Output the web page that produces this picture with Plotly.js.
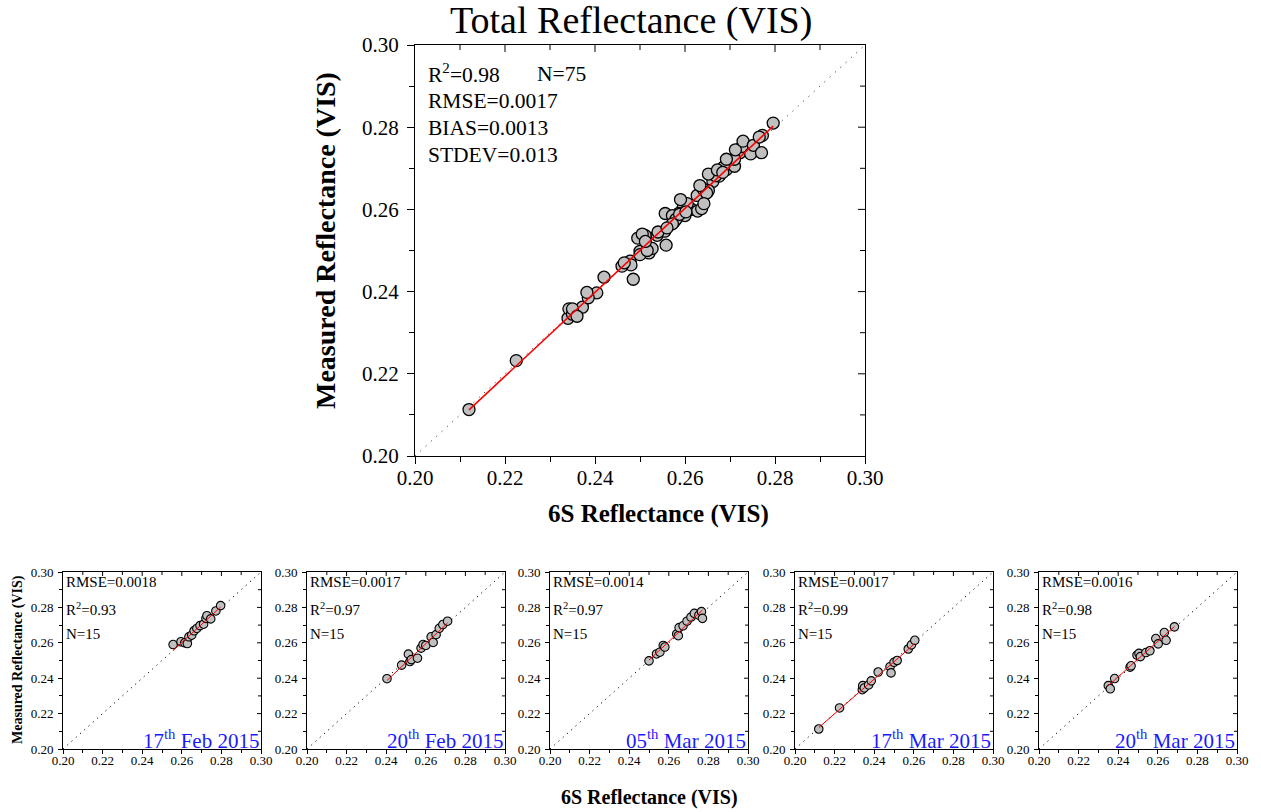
<!DOCTYPE html>
<html>
<head>
<meta charset="utf-8">
<script src="https://cdn.plot.ly/plotly-3.0.1.min.js"></script>
<style>html,body{margin:0;padding:0;background:#fff;}#chart{width:1261px;height:812px;}</style>
</head>
<body>
<div id="chart"></div>
<script>
// ---------------- DATA ----------------
const axisRange = [0.20, 0.30];
const tickVals = [0.20, 0.22, 0.24, 0.26, 0.28, 0.30];
const minorVals = [0.21, 0.23, 0.25, 0.27, 0.29];

// 17th Feb 2015
const feb17X = [0.2556,0.2596,0.2615,0.2628,0.2636,0.2650,0.2662,0.2676,0.2692,0.2710,0.2722,0.2727,0.2746,0.2772,0.2796];
const feb17Y = [0.2590,0.2606,0.2600,0.2596,0.2634,0.2643,0.2668,0.2681,0.2697,0.2705,0.2738,0.2753,0.2735,0.2780,0.2810];
// 20th Feb 2015
const feb20X = [0.2404,0.2478,0.2512,0.2520,0.2527,0.2558,0.2576,0.2586,0.2600,0.2627,0.2637,0.2652,0.2668,0.2686,0.2710];
const feb20Y = [0.2397,0.2474,0.2536,0.2494,0.2505,0.2513,0.2570,0.2590,0.2585,0.2634,0.2602,0.2646,0.2682,0.2703,0.2722];
// 05th Mar 2015
const mar05X = [0.2500,0.2538,0.2555,0.2572,0.2580,0.2640,0.2648,0.2652,0.2672,0.2692,0.2712,0.2729,0.2752,0.2765,0.2770];
const mar05Y = [0.2498,0.2537,0.2547,0.2585,0.2576,0.2650,0.2640,0.2686,0.2696,0.2722,0.2745,0.2766,0.2756,0.2776,0.2738];
// 17th Mar 2015
const mar17X = [0.2120,0.2225,0.2340,0.2342,0.2350,0.2372,0.2385,0.2420,0.2480,0.2485,0.2500,0.2516,0.2572,0.2588,0.2605];
const mar17Y = [0.2113,0.2232,0.2335,0.2358,0.2345,0.2362,0.2385,0.2435,0.2465,0.2430,0.2490,0.2500,0.2565,0.2588,0.2614];
// 20th Mar 2015
const mar20X = [0.2350,0.2360,0.2382,0.2460,0.2465,0.2495,0.2505,0.2512,0.2540,0.2560,0.2590,0.2602,0.2633,0.2642,0.2684];
const mar20Y = [0.2358,0.2340,0.2398,0.2462,0.2470,0.2530,0.2540,0.2522,0.2545,0.2555,0.2624,0.2594,0.2658,0.2614,0.2690];

const panelX = [feb17X, feb20X, mar05X, mar17X, mar20X];
const panelY = [feb17Y, feb20Y, mar05Y, mar17Y, mar20Y];
const panelDay = ['17', '20', '05', '17', '20'];
const panelMonth = ['Feb 2015', 'Feb 2015', 'Mar 2015', 'Mar 2015', 'Mar 2015'];
const panelRMSE = ['0.0018', '0.0017', '0.0014', '0.0017', '0.0016'];
const panelR2 = ['0.93', '0.97', '0.97', '0.99', '0.98'];
const panelN = ['15', '15', '15', '15', '15'];

const mainR2 = '0.98', mainN = '75', mainRMSE = '0.0017', mainBias = '0.0013', mainStdev = '0.013';

// ---------------- LAYOUT HELPERS ----------------
const W = 1261, H = 812;
const fx = p => p / W;
const fy = p => 1 - p / H;
const serif = 'Liberation Serif, Times New Roman, serif';
const span = axisRange[1] - axisRange[0];

function fit(xs, ys) {
  const n = xs.length;
  const mx = xs.reduce((a, b) => a + b, 0) / n;
  const my = ys.reduce((a, b) => a + b, 0) / n;
  let sxy = 0, sxx = 0;
  for (let i = 0; i < n; i++) { sxy += (xs[i] - mx) * (ys[i] - my); sxx += (xs[i] - mx) ** 2; }
  const b = sxy / sxx, a = my - b * mx;
  const x0 = Math.min(...xs), x1 = Math.max(...xs);
  return { x: [x0, x1], y: [a + b * x0, a + b * x1] };
}

const mainX = [].concat(...panelX);
const mainY = [].concat(...panelY);

const traces = [];
const layout = {
  width: W, height: H,
  margin: { l: 0, r: 0, t: 0, b: 0 },
  paper_bgcolor: '#fff', plot_bgcolor: '#fff',
  showlegend: false,
  annotations: [],
  font: { family: serif, color: '#000' }
};

function addPanel(idx, px0, px1, py0, py1, opt) {
  const xn = idx === 1 ? 'x' : 'x' + idx;
  const yn = idx === 1 ? 'y' : 'y' + idx;
  const xk = idx === 1 ? 'xaxis' : 'xaxis' + idx;
  const yk = idx === 1 ? 'yaxis' : 'yaxis' + idx;
  const base = {
    range: axisRange, tickvals: tickVals, tickformat: '.2f',
    ticks: 'outside', ticklen: opt.tl, tickwidth: 1, tickcolor: '#000',
    showline: true, linecolor: '#000', linewidth: 1, mirror: true,
    showgrid: false, zeroline: false, fixedrange: true,
    minor: { tickvals: minorVals, ticks: 'outside', ticklen: opt.mtl, tickwidth: 1, tickcolor: '#000', showgrid: false },
    tickfont: { family: serif, size: opt.tf, color: '#000' }
  };
  layout[xk] = Object.assign({}, base, { domain: [fx(px0), fx(px1)], anchor: yn, ticklabelstandoff: opt.xso });
  layout[yk] = Object.assign({}, base, { domain: [fy(py1), fy(py0)], anchor: xn, ticklabelstandoff: opt.yso });
  // inside ticks on top and right edges at the axis tick values (drawn as a line trace)
  const wPx = px1 - px0, hPx = py1 - py0;
  const edge = axisRange[1];
  const tx = [], ty = [], rx = [], ry = [];
  const add = (v, len) => {
    const dy = len / hPx * span, dx = len / wPx * span;
    tx.push(v, v, null); ty.push(edge, edge - dy, null);
    rx.push(edge, edge - dx, null); ry.push(v, v, null);
  };
  tickVals.slice(1, -1).forEach(v => add(v, opt.tl));
  minorVals.forEach(v => add(v, opt.mtl));
  traces.push({ x: tx.concat(rx), y: ty.concat(ry), xaxis: xn, yaxis: yn, mode: 'lines',
    line: { color: '#000', width: 1 }, hoverinfo: 'skip', connectgaps: false });
  return { xn, yn };
}

function addData(ax, xs, ys, opt) {
  traces.push({ x: axisRange, y: axisRange, xaxis: ax.xn, yaxis: ax.yn, mode: 'lines',
    line: { color: opt.dotColor, width: opt.dotW, dash: opt.dash }, hoverinfo: 'skip' });
  traces.push({ x: xs, y: ys, xaxis: ax.xn, yaxis: ax.yn, mode: 'markers',
    marker: { size: opt.ms, color: '#c0c0c0', line: { color: '#000', width: opt.mlw } } });
  const f = fit(xs, ys);
  traces.push({ x: f.x, y: f.y, xaxis: ax.xn, yaxis: ax.yn, mode: 'lines',
    line: { color: '#ff0000', width: opt.rw }, hoverinfo: 'skip' });
}

// ---------------- MAIN PANEL ----------------
const mainAx = addPanel(1, 415, 865, 45, 456, { tl: 7, mtl: 5, tf: 21, xso: -4, yso: 4 });
addData(mainAx, mainX, mainY, { ms: 12, mlw: 1.3, rw: 1.6, dotColor: '#444', dotW: 1, dash: '1.2px,6px' });

layout.annotations.push(
  { text: 'Total Reflectance (VIS)', xref: 'paper', yref: 'paper', x: fx(631), y: fy(21), showarrow: false,
    xanchor: 'center', yanchor: 'middle', font: { family: serif, size: 38, color: '#000' } },
  { text: '<b>Measured Reflectance (VIS)</b>', xref: 'paper', yref: 'paper', x: fx(325), y: fy(240), textangle: -90,
    showarrow: false, xanchor: 'center', yanchor: 'middle', font: { family: serif, size: 28, color: '#000' } },
  { text: '<b>6S Reflectance (VIS)</b>', xref: 'paper', yref: 'paper', x: fx(658), y: fy(514), showarrow: false,
    xanchor: 'center', yanchor: 'middle', font: { family: serif, size: 25, color: '#000' } }
);
const mainLines = [
  ['R<sup>2</sup>=' + mainR2, 426, 74],
  ['N=' + mainN, 535, 74],
  ['RMSE=' + mainRMSE, 426, 101],
  ['BIAS=' + mainBias, 426, 128],
  ['STDEV=' + mainStdev, 426, 155]
];
mainLines.forEach(l => layout.annotations.push({ text: l[0], xref: 'paper', yref: 'paper', x: fx(l[1]), y: fy(l[2]),
  showarrow: false, xanchor: 'left', yanchor: 'middle', font: { family: serif, size: 21.5, color: '#000' } }));

// ---------------- SMALL PANELS ----------------
const panelLeft = [63, 307, 550, 795, 1039];
const panelW = 198;
panelX.forEach((xs, i) => {
  const l = panelLeft[i], r = l + panelW;
  const ax = addPanel(i + 2, l, r, 572, 749, { tl: 4, mtl: 3, tf: 13, xso: -5, yso: 2 });
  addData(ax, xs, panelY[i], { ms: 8.5, mlw: 1.1, rw: 1, dotColor: '#000', dotW: 1, dash: '1.2px,4.5px' });
  const lines = [
    ['RMSE=' + panelRMSE[i], 582],
    ['R<sup>2</sup>=' + panelR2[i], 609],
    ['N=' + panelN[i], 634]
  ];
  lines.forEach(t => layout.annotations.push({ text: t[0], xref: 'paper', yref: 'paper', x: fx(l + 1), y: fy(t[1]),
    showarrow: false, xanchor: 'left', yanchor: 'middle', font: { family: serif, size: 15, color: '#000' } }));
  layout.annotations.push({ text: panelDay[i] + '<sup>th</sup> ' + panelMonth[i], xref: 'paper', yref: 'paper',
    x: fx(r), y: fy(739), showarrow: false, xanchor: 'right', yanchor: 'middle',
    font: { family: serif, size: 21, color: '#1a1aff' } });
});

layout.annotations.push(
  { text: '<b>Measured Reflectance (VIS)</b>', xref: 'paper', yref: 'paper', x: fx(18), y: fy(660), textangle: -90,
    showarrow: false, xanchor: 'center', yanchor: 'middle', font: { family: serif, size: 14, color: '#000' } },
  { text: '<b>6S Reflectance (VIS)</b>', xref: 'paper', yref: 'paper', x: fx(650), y: fy(797), showarrow: false,
    xanchor: 'center', yanchor: 'middle', font: { family: serif, size: 20, color: '#000' } }
);

Plotly.newPlot('chart', traces, layout, { staticPlot: true, displayModeBar: false });
</script>
</body>
</html>
